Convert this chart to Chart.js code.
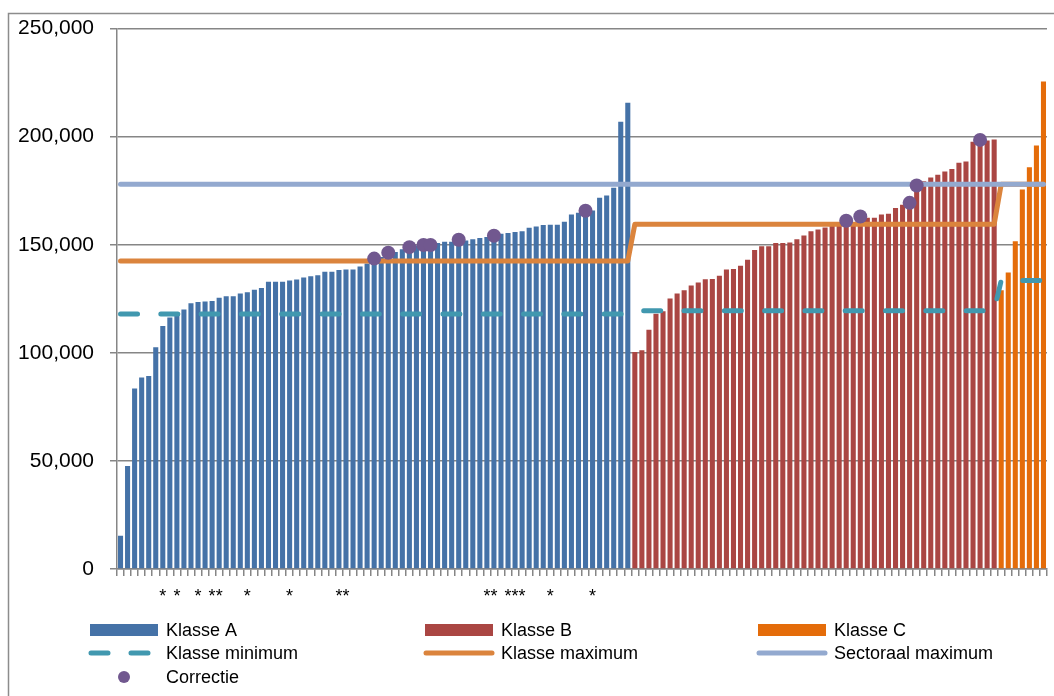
<!DOCTYPE html>
<html>
<head>
<meta charset="utf-8">
<script src="https://cdn.jsdelivr.net/npm/chart.js@4.4.0/dist/chart.umd.min.js"></script>
<style>
  html, body { margin: 0; padding: 0; background: #fff; }
  #wrap { width: 1054px; height: 696px; }
</style>
</head>
<body>
<div id="wrap"><canvas id="chart"></canvas></div>
<script>
// salarissen per klasse, oplopend gesorteerd
const klasseA = [
  15400, 47700, 83500, 88600, 89300, 102600, 112400, 116300, 118000, 120000,
  122900, 123500, 123700, 124000, 125500, 126200, 126200, 127500, 128000, 129200,
  130000, 132900, 132900, 132900, 133500, 133900, 134900, 135400, 135900, 137500,
  137500, 138300, 138600, 138600, 140000, 141300, 143000, 144300, 145900, 146600,
  147900, 148200, 149700, 150000, 150500, 150800, 151400, 151400, 152000, 152000,
  152600, 153100, 153600, 154300, 155100, 155400, 155900, 156300, 157900, 158500,
  159100, 159300, 159300, 160700, 164000, 164800, 165900, 165900, 171700, 172800,
  176400, 206900, 215700
];
const klasseB = [
  100400, 101200, 110700, 118100, 119200, 125100, 127400, 128900, 131100, 132500,
  134000, 134200, 135700, 138500, 138800, 140300, 143100, 147600, 149300, 149300,
  150800, 150800, 151100, 152500, 154300, 156300, 157100, 158000, 158700, 159200,
  159800, 160500, 162300, 162500, 162500, 164000, 164300, 167000, 168500, 170500,
  174400, 179400, 181100, 182400, 183900, 185000, 187900, 188500, 197600, 198000,
  198200, 198700
];
const klasseC = [128900, 137200, 151600, 175600, 185800, 195900, 225500];

const klasseMinimum = [118000, 119500, 133500];
const klasseMaximum = [142500, 159500, 178000];
const sectoraalMaximum = 178000;

const correctieIndex = [36, 38, 41, 43, 44, 48, 53, 66, 103, 105, 112, 113, 122];
const correctieWaarde = [143600, 146300, 148900, 149900, 149900, 152300, 154200, 165700,
                         161100, 163100, 169400, 177400, 198500];

// posities met een sterretje onder de as
const sterIndex = [6, 8, 11, 13, 14, 18, 24, 31, 32, 52, 53, 55, 56, 57, 61, 67];

const yTicks = [0, 50000, 100000, 150000, 200000, 250000];

const KLEUR = {
  A: '#4572A7', B: '#AA4643', C: '#E46C0A',
  min: '#4198AF', max: '#DB843D', sector: '#93A9CF', correctie: '#71588F'
};
const FONT = '"Liberation Sans", Arial, sans-serif';

const klassen = [klasseA, klasseB, klasseC];
const aantal = klassen.reduce((s, k) => s + k.length, 0);
const labels = Array.from({ length: aantal }, (_, i) => sterIndex.includes(i) ? '*' : '');

function alleenKlasse(nr) {
  const out = [];
  klassen.forEach((k, i) => k.forEach(v => out.push(i === nr ? v : null)));
  return out;
}
function perKlasse(waarden) {
  return klassen.flatMap((k, i) => k.map(() => waarden[i]));
}
const correctie = Array(aantal).fill(null);
correctieIndex.forEach((idx, i) => { correctie[idx] = correctieWaarde[i]; });

const lijn = (label, data, kleur, order, extra) => Object.assign({
  type: 'line', label, data, order,
  borderColor: kleur, backgroundColor: kleur,
  borderWidth: 5, pointRadius: 0, tension: 0,
  borderCapStyle: 'round', borderJoinStyle: 'round'
}, extra || {});

const balk = (label, data, kleur, order) => ({
  type: 'bar', label, data, order, grouped: false,
  backgroundColor: kleur, borderWidth: 0,
  barPercentage: 0.72, categoryPercentage: 1
});

// rand om de hele grafiek
const randPlugin = {
  id: 'rand',
  beforeDraw(chart) {
    const ctx = chart.ctx;
    ctx.save();
    ctx.fillStyle = '#fff';
    ctx.fillRect(0, 0, chart.width, chart.height);
    ctx.strokeStyle = '#8c8c8c';
    ctx.lineWidth = 1.5;
    ctx.strokeRect(8.5, 13.5, chart.width + 20, chart.height + 20);
    ctx.restore();
  }
};

// legenda in drie kolommen
const legendaPlugin = {
  id: 'legenda',
  afterDraw(chart) {
    const ctx = chart.ctx;
    const ds = chart.data.datasets;
    const kolX = [90, 425, 758];
    const rijY = [630, 653, 677];
    const items = [
      [0, 0, 'bar'], [1, 0, 'bar'], [2, 0, 'bar'],
      [0, 1, 'dash'], [1, 1, 'line'], [2, 1, 'line'],
      [0, 2, 'dot']
    ];
    ctx.save();
    ctx.font = '18px ' + FONT;
    ctx.textBaseline = 'middle';
    items.forEach(([kol, rij, soort], i) => {
      const d = ds[i];
      const x = kolX[kol], y = rijY[rij];
      const kleur = d.borderColor && soort !== 'bar' ? d.borderColor : d.backgroundColor;
      if (soort === 'bar') {
        ctx.fillStyle = kleur;
        ctx.fillRect(x, y - 6, 68, 12);
      } else if (soort === 'line' || soort === 'dash') {
        ctx.strokeStyle = kleur;
        ctx.lineWidth = 5;
        ctx.lineCap = 'round';
        ctx.beginPath();
        if (soort === 'dash') {
          ctx.moveTo(x + 1, y); ctx.lineTo(x + 18, y);
          ctx.moveTo(x + 41, y); ctx.lineTo(x + 58, y);
        } else {
          ctx.moveTo(x + 1, y); ctx.lineTo(x + 67, y);
        }
        ctx.stroke();
      } else {
        ctx.fillStyle = kleur;
        ctx.beginPath();
        ctx.arc(x + 34, y, 6, 0, Math.PI * 2);
        ctx.fill();
      }
      ctx.fillStyle = '#000';
      ctx.fillText(d.label, x + 76, y + 1);
    });
    ctx.restore();
  }
};

new Chart(document.getElementById('chart'), {
  data: {
    labels,
    datasets: [
      balk('Klasse A', alleenKlasse(0), KLEUR.A, 7),
      balk('Klasse B', alleenKlasse(1), KLEUR.B, 6),
      balk('Klasse C', alleenKlasse(2), KLEUR.C, 5),
      lijn('Klasse minimum', perKlasse(klasseMinimum), KLEUR.min, 4, { borderDash: [17, 23.3] }),
      lijn('Klasse maximum', perKlasse(klasseMaximum), KLEUR.max, 3),
      lijn('Sectoraal maximum', Array(aantal).fill(sectoraalMaximum), KLEUR.sector, 2),
      lijn('Correctie', correctie, KLEUR.correctie, 1, {
        showLine: false, pointRadius: 7, pointHoverRadius: 7,
        pointBackgroundColor: KLEUR.correctie, pointBorderColor: KLEUR.correctie, pointBorderWidth: 0
      })
    ]
  },
  options: {
    responsive: true,
    maintainAspectRatio: false,
    animation: false,
    events: [],
    layout: { padding: { top: 28, right: -2, bottom: 0, left: 0 } },
    plugins: { legend: { display: false }, tooltip: { enabled: false } },
    scales: {
      x: {
        type: 'category',
        offset: true,
        afterFit: s => { s.height = 127; },
        grid: { offset: true, drawOnChartArea: false, tickLength: 7, color: '#868686', lineWidth: 1.5 },
        border: { display: true, color: '#868686', width: 1.5 },
        ticks: {
          autoSkip: false, maxRotation: 0, minRotation: 0, padding: 10,
          color: '#000', font: { family: FONT, size: 18 }
        }
      },
      y: {
        min: 0, max: 250000,
        afterFit: s => { s.width = 117; },
        afterBuildTicks: s => { s.ticks = yTicks.map(v => ({ value: v })); },
        grid: { color: '#868686', lineWidth: 1.5, tickLength: 7 },
        border: { display: true, color: '#868686', width: 1.5 },
        ticks: {
          padding: 16, color: '#000',
          font: { family: FONT, size: 21 },
          callback: v => v.toLocaleString('en-US')
        }
      }
    }
  },
  plugins: [randPlugin, legendaPlugin]
});
</script>
</body>
</html>
